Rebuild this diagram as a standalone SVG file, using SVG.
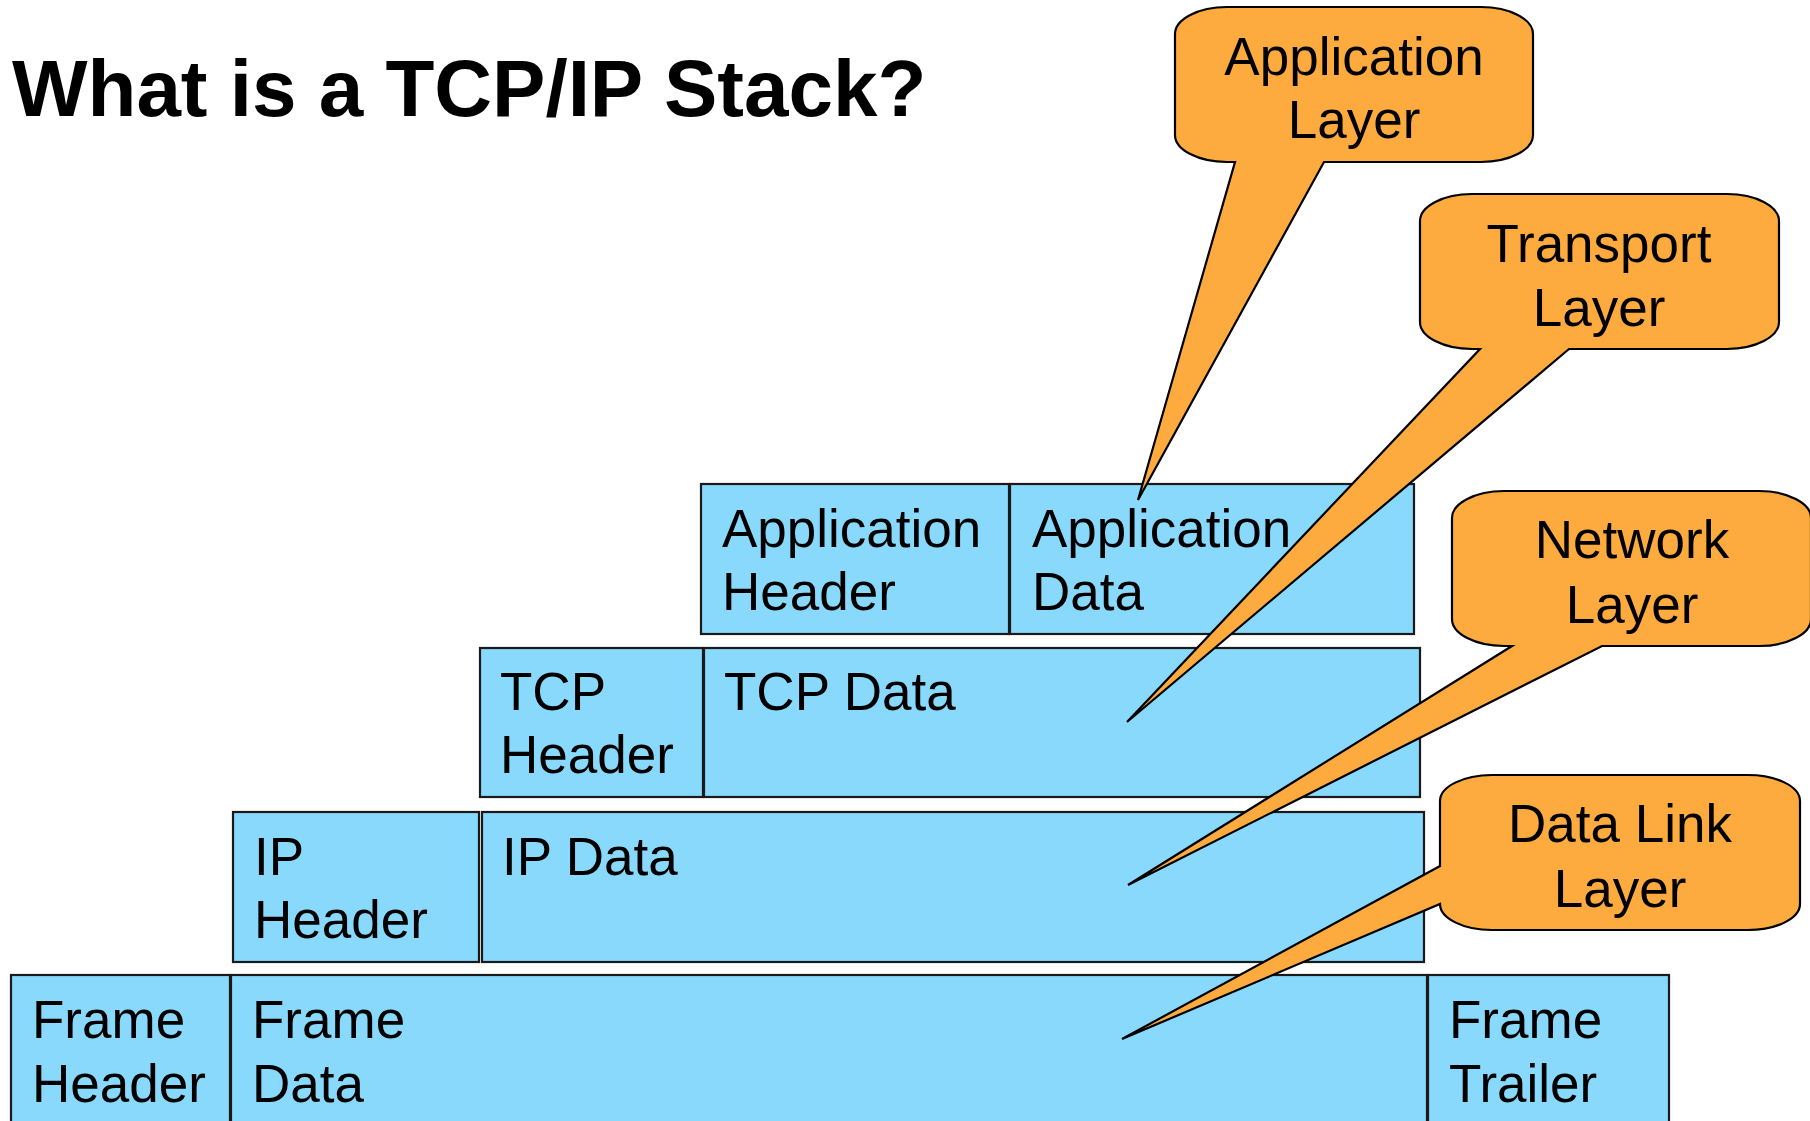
<svg xmlns="http://www.w3.org/2000/svg" width="1810" height="1121" viewBox="0 0 1810 1121">
  <style>
    .cell { fill: #88D9FC; stroke: #1a1a1a; stroke-width: 2.2; }
    .callout { fill: #FDAB3E; stroke: #000; stroke-width: 2.2; stroke-linejoin: miter; }
    .lbl { font-family: "Liberation Sans", Arial, sans-serif; font-size: 53px; fill: #000; }
    .clbl { font-family: "Liberation Sans", Arial, sans-serif; font-size: 53px; fill: #000; text-anchor: middle; }
    .title { font-family: "Liberation Sans", Arial, sans-serif; font-size: 80px; font-weight: bold; fill: #000; }
  </style>
  <rect width="1810" height="1121" fill="#fff"/>

  <text class="title" x="12" y="116">What is a TCP/IP Stack?</text>

  <!-- Application layer row -->
  <g id="app-header">
    <rect class="cell" x="701" y="484" width="308" height="150"/>
    <text class="lbl" x="722" y="547">Application</text>
    <text class="lbl" x="722" y="610">Header</text>
  </g>
  <g id="app-data">
    <rect class="cell" x="1010" y="484" width="404" height="150"/>
    <text class="lbl" x="1032" y="547">Application</text>
    <text class="lbl" x="1032" y="610">Data</text>
  </g>

  <!-- Transport layer row -->
  <g id="tcp-header">
    <rect class="cell" x="480" y="648" width="223" height="149"/>
    <text class="lbl" x="500" y="710">TCP</text>
    <text class="lbl" x="500" y="773">Header</text>
  </g>
  <g id="tcp-data">
    <rect class="cell" x="704" y="648" width="716" height="149"/>
    <text class="lbl" x="724" y="710">TCP Data</text>
  </g>

  <!-- Network layer row -->
  <g id="ip-header">
    <rect class="cell" x="233" y="812" width="246" height="150"/>
    <text class="lbl" x="254" y="875">IP</text>
    <text class="lbl" x="254" y="938">Header</text>
  </g>
  <g id="ip-data">
    <rect class="cell" x="482" y="812" width="942" height="150"/>
    <text class="lbl" x="502" y="875">IP Data</text>
  </g>

  <!-- Data link row -->
  <g id="frame-header">
    <rect class="cell" x="11" y="975" width="219" height="170"/>
    <text class="lbl" x="32" y="1038">Frame</text>
    <text class="lbl" x="32" y="1102">Header</text>
  </g>
  <g id="frame-data">
    <rect class="cell" x="231" y="975" width="1196" height="170"/>
    <text class="lbl" x="252" y="1038">Frame</text>
    <text class="lbl" x="252" y="1102">Data</text>
  </g>
  <g id="frame-trailer">
    <rect class="cell" x="1428" y="975" width="241" height="170"/>
    <text class="lbl" x="1449" y="1038">Frame</text>
    <text class="lbl" x="1449" y="1102">Trailer</text>
  </g>

  <!-- Callouts pointing into the stack -->
  <g id="connectors">
    <g id="callout-application">
      <path class="callout" d="M1227,7 H1481 A52,27 0 0 1 1533,34 V135 A52,27 0 0 1 1481,162 H1324 L1138,500 L1235,162 H1227 A52,27 0 0 1 1175,135 V34 A52,27 0 0 1 1227,7 Z"/>
      <text class="clbl" x="1354" y="75">Application</text>
      <text class="clbl" x="1354" y="138">Layer</text>
    </g>
    <g id="callout-transport">
      <path class="callout" d="M1472,194 H1727 A52,27 0 0 1 1779,221 V322 A52,27 0 0 1 1727,349 H1569 L1127,722 L1480,349 H1472 A52,27 0 0 1 1420,322 V221 A52,27 0 0 1 1472,194 Z"/>
      <text class="clbl" x="1599" y="262">Transport</text>
      <text class="clbl" x="1599" y="326">Layer</text>
    </g>
    <g id="callout-network">
      <path class="callout" d="M1504,491 H1759 A52,27 0 0 1 1811,518 V619 A52,27 0 0 1 1759,646 H1602 L1128,885 L1512,646 H1504 A52,27 0 0 1 1452,619 V518 A52,27 0 0 1 1504,491 Z"/>
      <text class="clbl" x="1632" y="558">Network</text>
      <text class="clbl" x="1632" y="623">Layer</text>
    </g>
    <g id="callout-datalink">
      <path class="callout" d="M1492,775 H1748 A52,26 0 0 1 1800,801 V904 A52,26 0 0 1 1748,930 H1492 A52,26 0 0 1 1440,904 L1122,1039 L1440,866 V801 A52,26 0 0 1 1492,775 Z"/>
      <text class="clbl" x="1620" y="842">Data Link</text>
      <text class="clbl" x="1620" y="907">Layer</text>
    </g>
  </g>
</svg>
